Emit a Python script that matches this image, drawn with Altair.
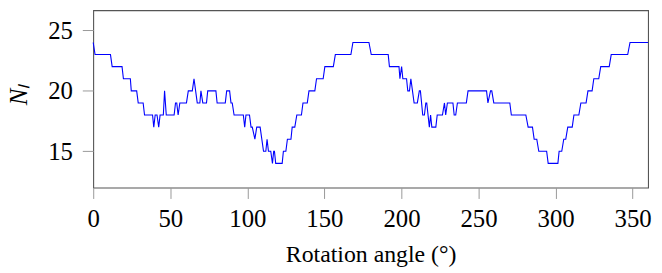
import altair as alt
import pandas as pd

# Key points of the step-like curve (angle in degrees, N_l)
angles = [0, 1.2, 11.2, 12.3, 18.7, 19.6, 24.1, 24.7, 28.2, 29.2, 32.4, 33.3,
          38.5, 39.3, 40.2, 41.4, 42.5, 43.4, 45.5, 46.3, 47.4, 52.5, 53.4, 54.2,
          55.1, 56.2, 60.5, 61.7, 64.3, 65.4, 67.5, 69.2, 69.9, 71.1, 73.5, 74.3,
          79.6, 80.4, 85.7, 86.6, 88.5, 89.4, 90.2, 91.4, 97.4, 98.3, 99.1, 101.4,
          102.4, 103.2, 104.9, 106.1, 108.3, 110.5, 112.0, 112.8, 113.7, 115.2,
          116.3, 117.1, 117.6, 118.4, 122.6, 123.4, 125.0, 126.0, 128.3, 129.1,
          130.8, 132.1, 135.1, 136.1, 138.9, 140.0, 143.8, 144.9, 149.2, 150.3,
          155.8, 157.1, 167.2, 168.5, 178.9, 180.4, 191.4, 192.2, 198.4, 199.0,
          200.1, 200.9, 203.3, 204.1, 205.2, 206.1, 208.2, 210.3, 211.6, 212.3,
          213.8, 214.9, 215.8, 216.4, 218.1, 218.9, 219.7, 222.3, 223.2, 226.6,
          227.9, 228.7, 229.8, 233.4, 234.2, 235.2, 236.3, 242.1, 243.2, 255.2,
          256.1, 257.8, 258.6, 259.9, 270.3, 271.3, 280.7, 282.2, 285.0, 286.1,
          287.8, 289.1, 294.2, 295.2, 301.5, 302.3, 304.0, 305.3, 306.6, 307.9,
          310.8, 311.9, 315.1, 316.4, 319.8, 321.0, 323.7, 324.8, 328.0, 329.3,
          334.8, 336.1, 346.8, 348.3, 360.0]
n_l = [24, 23, 23, 22, 22, 21, 21, 20, 20, 19, 19, 18,
       18, 17, 18, 18, 17, 18, 18, 20, 18, 18, 19, 19,
       18, 19, 19, 20, 20, 21, 19, 19, 20, 19, 19, 20,
       20, 19, 19, 20, 20, 19, 19, 18, 18, 17, 18, 18,
       17, 17, 16, 17, 17, 15, 15, 16, 15, 15,
       14, 15, 15, 14, 14, 15, 15, 16, 16, 17,
       17, 18, 18, 19, 19, 20, 20, 21, 21, 22,
       22, 23, 23, 24, 24, 23, 23, 22, 22, 21,
       22, 21, 21, 20, 20, 21, 19, 19, 20, 20,
       18, 18, 19, 19, 17, 18, 17, 17, 18, 18,
       19, 18, 19, 19, 18, 18, 19, 19, 20, 20,
       19, 20, 20, 19, 19, 18, 18, 17, 17, 16,
       16, 15, 15, 14, 14, 15, 15, 16, 16, 17,
       17, 18, 18, 19, 19, 20, 20, 21, 21, 22,
       22, 23, 23, 24, 24]

x_ticks = [0, 50, 100, 150, 200, 250, 300, 350]
y_ticks = [15, 20, 25]

df = pd.DataFrame({"angle": angles, "nl": n_l, "order": list(range(len(angles)))})

FONT = "Liberation Serif"

chart = alt.Chart(df).mark_line(color="#0000ff", strokeWidth=1.1).encode(
    x=alt.X("angle:Q",
            scale=alt.Scale(domain=[0, 360], nice=False, zero=False),
            axis=alt.Axis(values=x_ticks, title="Rotation angle (°)",
                          labelFlush=False, labelOverlap=False, labelBound=False,
                          labelPadding=8, tickSize=11, tickColor="#999999",
                          domain=False, grid=False,
                          labelFont=FONT, labelFontSize=25, labelColor="black",
                          titleFont=FONT, titleFontSize=24, titleFontWeight="normal",
                          titleColor="black", titleBaseline="alphabetic",
                          titleY=75, titleX=280, titleAlign="center")),
    y=alt.Y("nl:Q",
            scale=alt.Scale(domain=[12, 26.67], nice=False, zero=False),
            axis=alt.Axis(values=y_ticks, title="Nₗ",
                          labelPadding=10, tickSize=11, tickColor="#999999",
                          domain=False, grid=False,
                          labelFont=FONT, labelFontSize=25, labelColor="black",
                          titleFont=FONT, titleFontSize=25, titleFontWeight="normal",
                          titleFontStyle="italic", titleColor="black",
                          titleAngle=270, titleBaseline="alphabetic",
                          titleAlign="center", titleX=-67, titleY=85)),
    order="order:Q",
).properties(
    width=560, height=179,
    autosize=alt.AutoSizeParams(type="none"),
    padding={"left": 86, "top": 1, "right": 6, "bottom": 84},
).configure_view(
    stroke="#555555", strokeWidth=1.1
)

chart.save("out.html", embed_options={"renderer": "svg", "actions": False})
